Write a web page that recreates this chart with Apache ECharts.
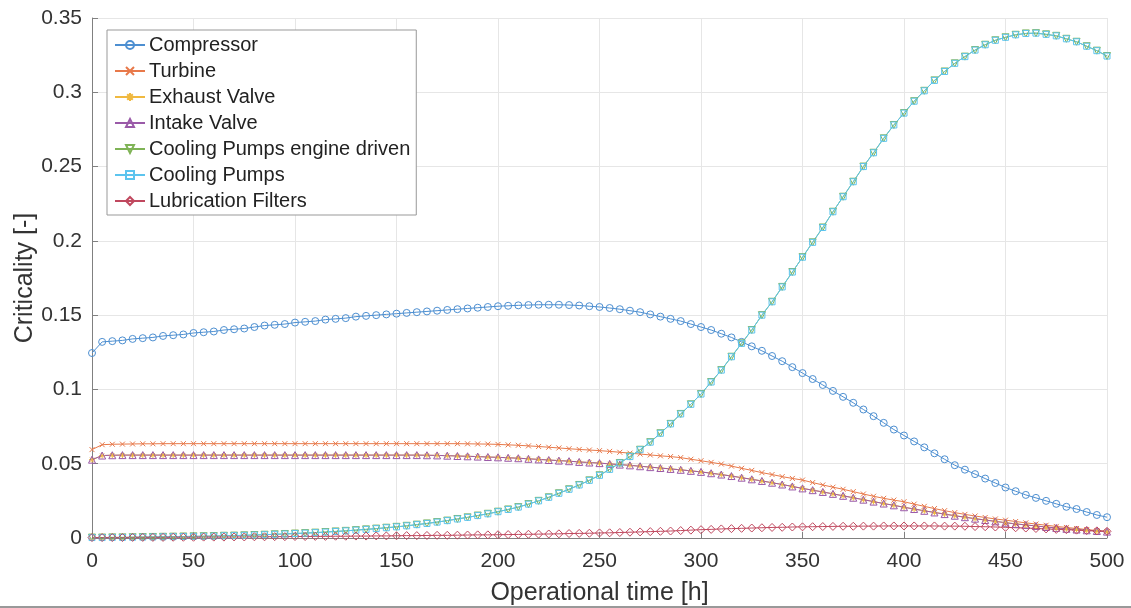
<!DOCTYPE html>
<html><head><meta charset="utf-8">
<script src="https://cdn.jsdelivr.net/npm/echarts@6/dist/echarts.min.js"></script>
<style>html,body{margin:0;padding:0;background:#fff}#c{width:1131px;height:608px}</style>
</head><body><div id="c"></div>
<script>
const time = [0,5,10,15,20,25,30,35,40,45,50,55,60,65,70,75,80,85,90,95,100,105,110,115,120,125,130,135,140,145,150,155,160,165,170,175,180,185,190,195,200,205,210,215,220,225,230,235,240,245,250,255,260,265,270,275,280,285,290,295,300,305,310,315,320,325,330,335,340,345,350,355,360,365,370,375,380,385,390,395,400,405,410,415,420,425,430,435,440,445,450,455,460,465,470,475,480,485,490,495,500];

const compressor = [0.1245,0.132,0.1325,0.133,0.134,0.1345,0.135,0.136,0.1365,0.137,0.138,0.1385,0.139,0.140,0.1405,0.141,0.142,0.143,0.1435,0.144,0.145,0.1455,0.146,0.147,0.1475,0.148,0.149,0.1495,0.150,0.1505,0.151,0.1515,0.152,0.1525,0.153,0.1535,0.154,0.1545,0.155,0.1555,0.156,0.1563,0.1566,0.1568,0.157,0.157,0.157,0.1568,0.1565,0.156,0.1555,0.1548,0.154,0.153,0.152,0.1505,0.149,0.1475,0.146,0.144,0.142,0.140,0.1375,0.135,0.132,0.129,0.126,0.1225,0.119,0.115,0.111,0.107,0.103,0.099,0.095,0.091,0.0865,0.082,0.0775,0.073,0.069,0.065,0.061,0.057,0.053,0.049,0.046,0.043,0.040,0.037,0.034,0.0315,0.029,0.027,0.025,0.023,0.021,0.0195,0.0175,0.0155,0.014];

const turbine = [0.0595,0.0628,0.0631,0.0632,0.0633,0.0634,0.0634,0.0635,0.0635,0.0635,0.0635,0.0635,0.0635,0.0635,0.0635,0.0635,0.0635,0.0635,0.0635,0.0635,0.0635,0.0635,0.0635,0.0635,0.0635,0.0635,0.0635,0.0635,0.0635,0.0635,0.0635,0.0635,0.0635,0.0635,0.0635,0.0635,0.0635,0.0634,0.0633,0.0632,0.0630,0.0627,0.0624,0.0620,0.0616,0.0611,0.0606,0.0601,0.0596,0.0592,0.0588,0.0583,0.0577,0.0571,0.0565,0.0559,0.0553,0.0548,0.0541,0.0530,0.0520,0.0509,0.0498,0.0484,0.0469,0.0455,0.0440,0.0427,0.0413,0.0401,0.0390,0.0373,0.0357,0.0342,0.0328,0.0312,0.0296,0.0281,0.0267,0.0255,0.0244,0.0228,0.0213,0.0198,0.0184,0.0171,0.0159,0.0148,0.0138,0.0128,0.0120,0.0111,0.0102,0.0094,0.0086,0.0078,0.0071,0.0064,0.0057,0.0050,0.0044];

const intakeValve = [0.0527,0.0555,0.0557,0.0558,0.0558,0.0558,0.0558,0.0558,0.0558,0.0558,0.0558,0.0558,0.0558,0.0558,0.0558,0.0558,0.0558,0.0558,0.0558,0.0558,0.0558,0.0558,0.0558,0.0558,0.0558,0.0558,0.0558,0.0558,0.0558,0.0558,0.0558,0.0558,0.0558,0.0557,0.0556,0.0554,0.0552,0.0550,0.0548,0.0545,0.0543,0.0540,0.0537,0.0533,0.0529,0.0525,0.0521,0.0517,0.0512,0.0508,0.0504,0.0499,0.0494,0.0489,0.0483,0.0477,0.0471,0.0465,0.0459,0.0452,0.0445,0.0436,0.0427,0.0417,0.0406,0.0395,0.0384,0.0372,0.0360,0.0347,0.0334,0.0322,0.0310,0.0297,0.0284,0.0271,0.0258,0.0245,0.0232,0.0220,0.0207,0.0195,0.0183,0.0172,0.0161,0.0150,0.0140,0.0130,0.0121,0.0112,0.0103,0.0095,0.0088,0.0081,0.0074,0.0068,0.0062,0.0057,0.0052,0.0047,0.0043];

// Exhaust valve coincides with intake valve in the reference
const exhaustValve = intakeValve.slice();

const coolingEngine = [0.0003,0.0003,0.0004,0.0004,0.0005,0.0006,0.0007,0.0008,0.0009,0.0010,0.0011,0.0012,0.0013,0.0015,0.0016,0.0018,0.0020,0.0022,0.0025,0.0027,0.0030,0.0033,0.0036,0.0040,0.0044,0.0048,0.0053,0.0058,0.0063,0.0069,0.0075,0.0082,0.0090,0.0098,0.0107,0.0117,0.0128,0.0139,0.0151,0.0163,0.0177,0.0192,0.0208,0.0228,0.0250,0.0274,0.0301,0.0328,0.0357,0.0388,0.0422,0.0462,0.0505,0.0548,0.0594,0.0645,0.0705,0.0768,0.0835,0.0900,0.0969,0.1050,0.1130,0.1220,0.1310,0.1400,0.1500,0.1590,0.1690,0.1790,0.1890,0.1990,0.2090,0.2196,0.2297,0.2398,0.2500,0.2593,0.2690,0.2780,0.2860,0.2940,0.3010,0.3080,0.3140,0.3195,0.3240,0.3284,0.3320,0.3350,0.3370,0.3387,0.3396,0.3398,0.3390,0.3380,0.3360,0.3340,0.3310,0.3280,0.3244];

// Cooling pumps coincide with the engine-driven cooling pumps in the reference
const coolingPumps = coolingEngine.slice();

const lubrication = [0.0003,0.0003,0.0003,0.0003,0.0004,0.0004,0.0004,0.0004,0.0005,0.0005,0.0005,0.0006,0.0006,0.0006,0.0007,0.0007,0.0008,0.0008,0.0009,0.0009,0.0010,0.0010,0.0011,0.0011,0.0012,0.0012,0.0013,0.0013,0.0014,0.0014,0.0015,0.0016,0.0016,0.0017,0.0018,0.0018,0.0019,0.0020,0.0021,0.0021,0.0022,0.0023,0.0024,0.0025,0.0026,0.0027,0.0028,0.0030,0.0031,0.0032,0.0034,0.0035,0.0037,0.0039,0.0041,0.0043,0.0045,0.0047,0.0050,0.0053,0.0056,0.0058,0.0061,0.0063,0.0065,0.0067,0.0069,0.0071,0.0072,0.0074,0.0075,0.0076,0.0077,0.0078,0.0079,0.0079,0.0080,0.0080,0.0081,0.0081,0.0081,0.0081,0.0081,0.0081,0.0080,0.0080,0.0079,0.0077,0.0076,0.0074,0.0072,0.0069,0.0067,0.0064,0.0061,0.0058,0.0056,0.0053,0.0050,0.0048,0.0045];

const xTicks = [0,50,100,150,200,250,300,350,400,450,500];
const yTicks = [0,0.05,0.1,0.15,0.2,0.25,0.3,0.35];

const FONT = '"Liberation Sans", Arial, Helvetica, sans-serif';
const xPath = 'path://M0,0L10,10M10,0L0,10';
const starPath = 'path://M5,0L5,10M0,5L10,5M1.5,1.5L8.5,8.5M8.5,1.5L1.5,8.5';

function mk(name, values, color, symbol, rotate, size) {
  return {
    name: name, type: 'line',
    data: time.map((t, i) => [t, values[i]]),
    symbol: symbol, symbolSize: size || 6, symbolRotate: rotate || 0,
    showSymbol: true,
    lineStyle: { color: color, width: 1 },
    itemStyle: { color: 'rgba(255,255,255,0)', borderColor: color, borderWidth: 1 },
    emphasis: { disabled: true },
    animation: false
  };
}

const chart = echarts.init(document.getElementById('c'), null, { renderer: 'canvas' });
chart.setOption({
  backgroundColor: '#fff',
  animation: false,
  textStyle: { fontFamily: FONT },
  grid: { left: 92, right: 24, top: 18, bottom: 70, containLabel: false, outerBoundsMode: 'none' },
  legend: {
    orient: 'vertical', left: 107, top: 30,
    padding: [5, 6, 4, 7], itemGap: 6, itemWidth: 30, itemHeight: 10,
    backgroundColor: '#fff', borderColor: '#999', borderWidth: 1,
    textStyle: { fontSize: 20, lineHeight: 20, color: '#222', fontFamily: FONT, padding: [0, 0, 0, -1] }
  },
  xAxis: {
    type: 'value', min: 0, max: 500, interval: 50,
    name: 'Operational time [h]', nameLocation: 'middle', nameGap: 43, nameMoveOverlap: false,
    nameTextStyle: { fontSize: 25, color: '#333' },
    axisLine: { show: true, lineStyle: { color: '#808080', width: 1 } },
    axisTick: { show: true, inside: true, length: 6, lineStyle: { color: '#808080' } },
    axisLabel: { fontSize: 21, color: '#333', margin: 13, formatter: v => xTicks.indexOf(v) >= 0 ? String(v) : '' },
    splitLine: { show: true, lineStyle: { color: '#e6e6e6', width: 1 } }
  },
  yAxis: {
    type: 'value', min: 0, max: 0.35, interval: 0.05,
    name: 'Criticality [-]', nameLocation: 'middle', nameGap: 54, nameRotate: 90, nameMoveOverlap: false,
    nameTextStyle: { fontSize: 25, color: '#333' },
    axisLine: { show: true, lineStyle: { color: '#808080', width: 1 } },
    axisTick: { show: true, inside: true, length: 6, lineStyle: { color: '#808080' } },
    axisLabel: { fontSize: 21, color: '#333', margin: 10,
      formatter: v => { const t = yTicks.find(y => Math.abs(y - v) < 1e-9); return t === undefined ? '' : String(parseFloat(t.toFixed(2))); } },
    splitLine: { show: true, lineStyle: { color: '#e6e6e6', width: 1 } }
  },
  graphic: [{ type: 'rect', left: 0, top: 606, shape: { width: 1131, height: 2 }, style: { fill: '#999' }, silent: true }],
  series: [
    mk('Compressor', compressor, '#4d8fd1', 'circle', 0, 7),
    mk('Turbine', turbine, '#e8794a', xPath, 0, 5),
    mk('Exhaust Valve', exhaustValve, '#f0b940', starPath, 0, 6),
    mk('Intake Valve', intakeValve, '#9a5aa8', 'triangle', 0, 7),
    mk('Cooling Pumps engine driven', coolingEngine, '#7fb356', 'triangle', 180, 7),
    mk('Cooling Pumps', coolingPumps, '#5cc4ee', 'rect', 0, 6),
    mk('Lubrication Filters', lubrication, '#c0485e', 'diamond', 0, 8)
  ]
});
</script></body></html>
